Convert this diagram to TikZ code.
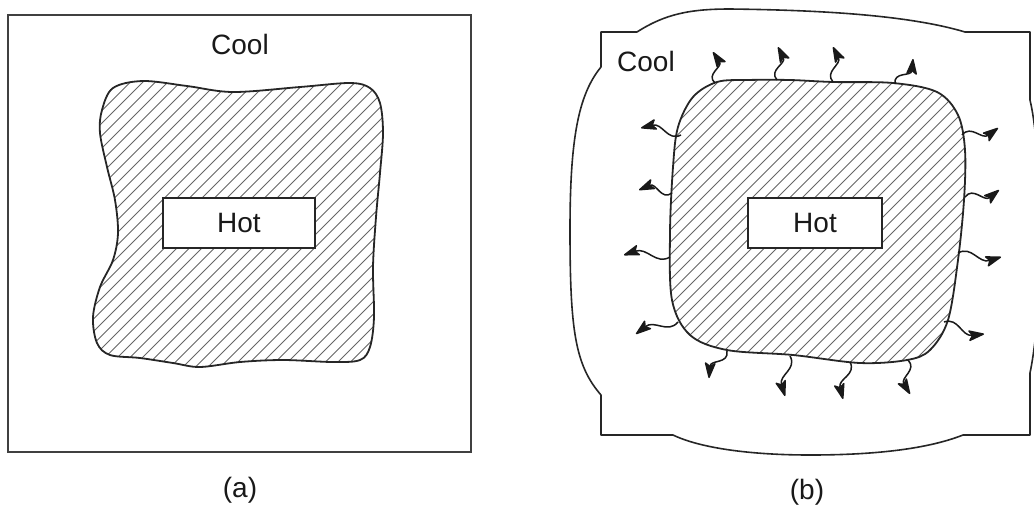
\documentclass[tikz,border=0pt]{standalone}
\usepackage{fontspec}
\setmainfont{Liberation Sans}
\usetikzlibrary{calc,arrows.meta}

% wavy heat-flow arrow between two named coordinates
\newcommand\heatflow[2]{%
  \draw[heat] (#1) .. controls ($(#1)!0.3!(#2)!9pt!90:(#2)$)
                         and ($(#1)!0.5!(#2)!9pt!-90:(#2)$) .. (#2);}

\begin{document}
\begin{tikzpicture}[x=1pt,y=-1pt,
  outline/.style={line width=1.8pt,draw=black!85,line join=round},
  frame/.style={line width=1.8pt,draw=black!75},
  hatch/.style={line width=0.9pt,draw=black!60},
  lbl/.style={font=\fontsize{28}{32}\selectfont,text=black!90,inner sep=0pt},
  hotbox/.style={draw=black!85,line width=1.6pt,fill=white,minimum height=50pt,
                 inner sep=0pt,font=\fontsize{28}{32}\selectfont,text=black!90},
  heat/.style={line width=1.5pt,draw=black!90,
               -{Stealth[length=18pt,width=12pt,inset=4pt,round]}}]

\useasboundingbox (0,0) rectangle (1034,507);

% ---------------- (a) ----------------
\draw[frame] (8,15) rectangle (471,452);

\def\blobA{plot[smooth cycle,tension=0.55] coordinates {
  (102,110) (113,88) (143,81) (187,86) (233,92) (300,87) (350,83) (370,88)
  (380,103) (383,133) (380,173) (376,217) (373,267) (374,317) (370,347)
  (360,360) (333,362) (283,360) (240,362) (200,367) (173,363) (140,358)
  (110,355) (97,343) (93,317) (100,287) (113,260) (118,233) (115,200)
  (107,167) (100,133)}}

\begin{scope}
  \clip \blobA;
  \foreach \c in {-320,-307.5,...,420} \draw[hatch] (\c,420) -- ++(400,-400);
\end{scope}
\draw[outline] \blobA;

\node[hotbox,minimum width=152pt] (hotA) at (239,223) {Hot};
\node[lbl] (coolA) at (240,44) {Cool};
\node[lbl] (capA) at (240,490) {(a)};

% ---------------- (b) ----------------
\draw[outline,line width=1.6pt]
  (601,32) -- (637,32) .. controls (665,14) and (690,9) .. (730,9)
  .. controls (810,10) and (905,14) .. (965,32) -- (1030,32) -- (1030,100)
  .. controls (1042,150) and (1045,300) .. (1030,373) -- (1030,435) -- (963,435)
  .. controls (930,448) and (880,455) .. (810,455)
  .. controls (750,455) and (700,448) .. (673,435) -- (601,435) -- (601,395)
  .. controls (575,365) and (570,330) .. (570,230)
  .. controls (570,140) and (578,95) .. (601,67) -- cycle;

\def\blobB{plot[smooth cycle,tension=0.55] coordinates {
  (693,97) (717,82) (747,80) (790,80) (833,82) (893,83) (937,92) (958,115)
  (965,150) (964,200) (958,260) (948,320) (930,350) (907,360) (860,363)
  (793,355) (727,350) (690,335) (672,300) (670,233) (673,167) (678,127)}}

\begin{scope}
  \clip \blobB;
  \foreach \c in {280,292.5,...,1000} \draw[hatch] (\c,420) -- ++(400,-400);
\end{scope}
\draw[outline] \blobB;

\node[hotbox,minimum width=134pt] (hotB) at (815,223) {Hot};
\node[lbl] (coolB) at (646,61) {Cool};
\node[lbl] (capB) at (807,492) {(b)};

% heat leaving the hot region
\coordinate (t1s) at (715,83);  \coordinate (t1e) at (713,52);
\coordinate (t2s) at (777,80);  \coordinate (t2e) at (778,47);
\coordinate (t3s) at (833,82);  \coordinate (t3e) at (833,47);
\coordinate (t4s) at (895,84);  \coordinate (t4e) at (913,59);
\coordinate (l1s) at (681,135); \coordinate (l1e) at (641,128);
\coordinate (l2s) at (672,193); \coordinate (l2e) at (639,190);
\coordinate (l3s) at (670,257); \coordinate (l3e) at (624,255);
\coordinate (l4s) at (678,322); \coordinate (l4e) at (636,334);
\coordinate (r1s) at (962,135); \coordinate (r1e) at (998,128);
\coordinate (r2s) at (965,197); \coordinate (r2e) at (999,190);
\coordinate (r3s) at (958,253); \coordinate (r3e) at (1001,257);
\coordinate (r4s) at (944,322); \coordinate (r4e) at (984,334);
\coordinate (b1s) at (727,351); \coordinate (b1e) at (709,378);
\coordinate (b2s) at (790,356); \coordinate (b2e) at (785,396);
\coordinate (b3s) at (850,362); \coordinate (b3e) at (843,399);
\coordinate (b4s) at (908,360); \coordinate (b4e) at (910,394);

\foreach \p in {t1,t2,t3,t4,l1,l2,l3,l4,r1,r2,r3,r4,b1,b2,b3,b4}
  {\heatflow{\p s}{\p e}}
\end{tikzpicture}
\end{document}
